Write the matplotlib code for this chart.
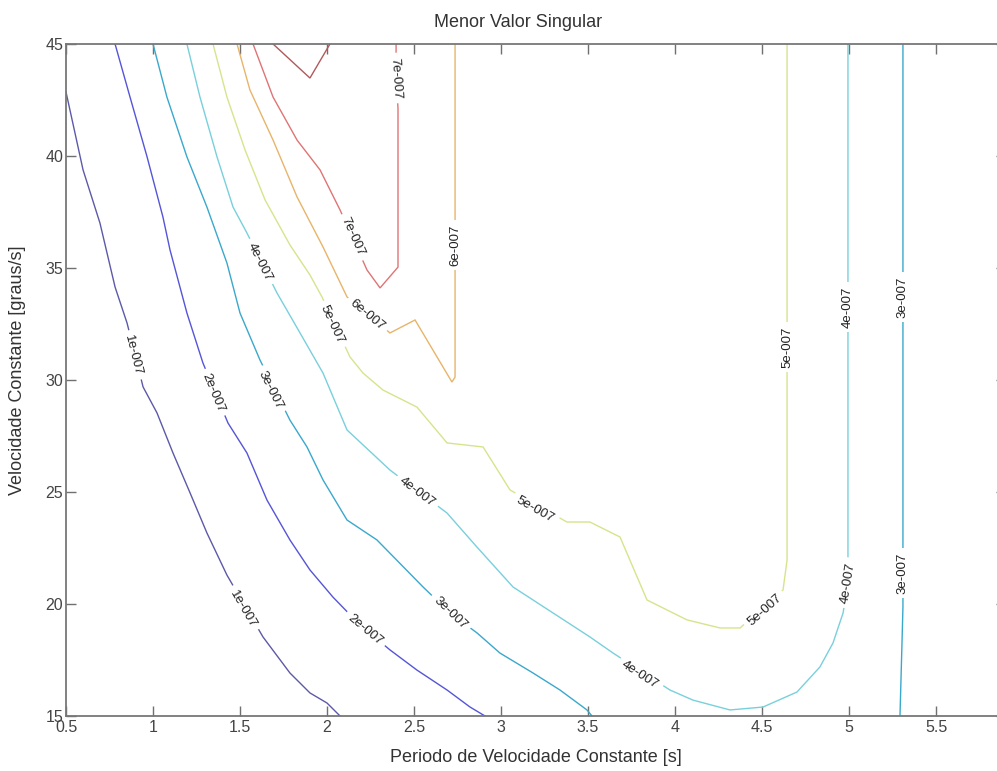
import numpy as np
import matplotlib
matplotlib.use("Agg")
import matplotlib.pyplot as plt

plt.rcParams['font.family'] = ['Liberation Sans', 'DejaVu Sans']

# ---------------- data ----------------
title = "Menor Valor Singular"
xlabel = "Periodo de Velocidade Constante [s]"
ylabel = "Velocidade Constante [graus/s]"
xticks = [0.5, 1, 1.5, 2, 2.5, 3, 3.5, 4, 4.5, 5, 5.5]
xtick_labels = ["0.5", "1", "1.5", "2", "2.5", "3", "3.5", "4", "4.5", "5", "5.5"]
yticks = [15, 20, 25, 30, 35, 40, 45]
ytick_labels = ["15", "20", "25", "30", "35", "40", "45"]
xlim = (0.5, 5.9)
ylim = (15, 45)

level_names = ["1e-007", "2e-007", "3e-007", "4e-007", "5e-007", "6e-007", "7e-007", "8e-007"]

# level 1e-7
x_1 = [0.5, 0.598, 0.695, 0.782, 0.851, 0.943, 1.023, 1.115, 1.213, 1.310, 1.425, 1.632, 1.787, 1.902, 2.0, 2.075]
y_1 = [42.86, 39.38, 37.01, 34.15, 32.54, 29.69, 28.53, 26.74, 24.96, 23.17, 21.29, 18.53, 16.92, 16.03, 15.58, 15.0]
lab_1 = [(0.885, 31.1), (1.517, 19.78)]

# level 2e-7
x_2 = [0.782, 0.868, 0.966, 1.057, 1.098, 1.195, 1.287, 1.431, 1.540, 1.655, 1.787, 1.902, 2.034, 2.190, 2.362, 2.517, 2.690, 2.822, 2.908]
y_2 = [45.0, 42.63, 39.96, 37.28, 35.80, 32.99, 30.76, 28.08, 26.74, 24.64, 22.86, 21.52, 20.31, 19.06, 17.95, 17.05, 16.16, 15.40, 15.0]
lab_2 = [(1.345, 29.42), (2.218, 18.84)]

# level 3e-7 (two pieces)
x_3a = [1.0, 1.080, 1.195, 1.310, 1.425, 1.5, 1.615, 1.787, 1.885, 1.977, 2.115, 2.287, 2.552, 2.707, 2.862, 2.994, 3.184, 3.339, 3.494, 3.523]
y_3a = [45.0, 42.63, 39.96, 37.72, 35.22, 32.99, 30.89, 28.21, 27.01, 25.54, 23.75, 22.86, 20.76, 19.60, 18.71, 17.81, 16.92, 16.16, 15.27, 15.0]
lab_3a = [(1.672, 29.55), (2.707, 19.60)]
x_3b = [5.31, 5.31, 5.305, 5.293]
y_3b = [45.0, 19.87, 18.39, 15.0]
lab_3b = [(5.31, 33.71), (5.31, 21.38)]

# level 4e-7
x_4 = [1.195, 1.270, 1.368, 1.460, 1.540, 1.713, 1.845, 1.977, 2.115, 2.362, 2.690, 2.862, 3.069, 3.299, 3.511, 3.644, 3.971, 4.103, 4.316, 4.506, 4.701, 4.833, 4.908, 4.966, 4.994, 4.994, 4.994]
y_4 = [45.0, 42.63, 39.96, 37.72, 36.56, 33.88, 32.10, 30.31, 27.77, 25.98, 24.06, 22.54, 20.76, 19.60, 18.53, 17.81, 16.16, 15.71, 15.27, 15.40, 16.07, 17.19, 18.26, 19.60, 20.94, 21.96, 45.0]
lab_4 = [(1.615, 35.27), (2.517, 25.0), (3.799, 16.83), (4.994, 20.94), (4.994, 33.26)]

# level 5e-7
x_5 = [1.345, 1.425, 1.529, 1.644, 1.787, 1.902, 1.971, 2.132, 2.207, 2.322, 2.517, 2.690, 2.897, 3.052, 3.379, 3.511, 3.684, 3.839, 4.069, 4.259, 4.374, 4.621, 4.644, 4.644]
y_5 = [45.0, 42.63, 40.27, 38.04, 36.03, 34.69, 33.71, 31.03, 30.31, 29.55, 28.79, 27.19, 27.01, 25.09, 23.66, 23.66, 22.99, 20.18, 19.29, 18.93, 18.93, 20.63, 21.96, 45.0]
lab_5 = [(2.029, 32.46), (3.195, 24.20), (4.517, 19.73), (4.644, 31.47)]

# level 6e-7
x_6 = [1.483, 1.557, 1.690, 1.828, 1.977, 2.115, 2.362, 2.506, 2.718, 2.736, 2.736]
y_6 = [45.0, 42.95, 40.71, 38.17, 35.94, 33.71, 32.10, 32.68, 29.91, 30.13, 45.0]
lab_6 = [(2.230, 32.90), (2.736, 36.03)]

# level 7e-7
x_7 = [1.575, 1.690, 1.828, 1.960, 2.075, 2.230, 2.305, 2.408, 2.408, 2.397, 2.397]
y_7 = [45.0, 42.63, 40.71, 39.38, 37.59, 34.91, 34.11, 35.04, 42.14, 43.48, 45.0]
lab_7 = [(2.149, 36.38), (2.397, 43.48)]

# level 8e-7 (small unlabeled pocket)
x_8 = [1.690, 1.902, 2.017]
y_8 = [45.0, 43.48, 45.0]
lab_8 = []

level_colors = ["#5c5aa8", "#5555d8", "#3aa8cc", "#78d0dc", "#d6e48c", "#e8b46a", "#e07474", "#b05a5a"]

pieces = [
    (0, x_1, y_1, lab_1),
    (1, x_2, y_2, lab_2),
    (2, x_3a, y_3a, lab_3a),
    (2, x_3b, y_3b, lab_3b),
    (3, x_4, y_4, lab_4),
    (4, x_5, y_5, lab_5),
    (5, x_6, y_6, lab_6),
    (6, x_7, y_7, lab_7),
    (7, x_8, y_8, lab_8),
]

# ---------------- figure ----------------
W, H = 997, 771
fig = plt.figure(figsize=(W / 100, H / 100), dpi=100)
ax_left, ax_right, ax_top, ax_bottom = 66, 1005.6, 44, 716
ax = fig.add_axes([ax_left / W, 1 - ax_bottom / H, (ax_right - ax_left) / W, (ax_bottom - ax_top) / H])
ax.set_xlim(*xlim)
ax.set_ylim(*ylim)

for lvl, xs, ys, labs in pieces:
    ax.plot(xs, ys, color=level_colors[lvl], lw=1.0, solid_joinstyle='miter', zorder=2)


def label_angle(xs, ys, lx, ly):
    P = ax.transData.transform(np.column_stack([xs, ys]))
    L = np.asarray(ax.transData.transform((lx, ly)))
    best, bi = 1e18, 0
    for i in range(len(P) - 1):
        a, b = P[i], P[i + 1]
        d = b - a
        t = np.clip(np.dot(L - a, d) / max(np.dot(d, d), 1e-12), 0, 1)
        dist = np.linalg.norm(a + t * d - L)
        if dist < best:
            best, bi = dist, i
    d = P[bi + 1] - P[bi]
    ang = np.degrees(np.arctan2(d[1], d[0]))
    if ang > 90.5:
        ang -= 180
    elif ang <= -89.5:
        ang += 180
    return ang


for lvl, xs, ys, labs in pieces:
    for (lx, ly) in labs:
        ang = label_angle(xs, ys, lx, ly)
        ax.text(lx, ly, level_names[lvl], rotation=ang, rotation_mode='anchor',
                ha='center', va='center', fontsize=9.5, color='#222222', zorder=3,
                bbox=dict(boxstyle='square,pad=0.35', fc='white', ec='none'))

ax.set_xticks(xticks)
ax.set_xticklabels(xtick_labels)
ax.set_yticks(yticks)
ax.set_yticklabels(ytick_labels)
ax.tick_params(direction='in', length=7, width=1.0, color='#707070',
               labelsize=11.5, labelcolor='#444444', top=True, right=True)
ax.tick_params(axis='x', pad=3)
ax.tick_params(axis='y', pad=2)
for s in ax.spines.values():
    s.set_color('#777777')
    s.set_linewidth(1.3)

ax.set_title(title, fontsize=13, color='#333333', x=0.481, pad=12)
ax.set_xlabel(xlabel, fontsize=13, color='#333333', labelpad=10)
ax.set_ylabel(ylabel, fontsize=13, color='#333333')
ax.yaxis.set_label_coords(-0.043, 0.515)

fig.savefig("out.png", dpi=100, facecolor='white')
